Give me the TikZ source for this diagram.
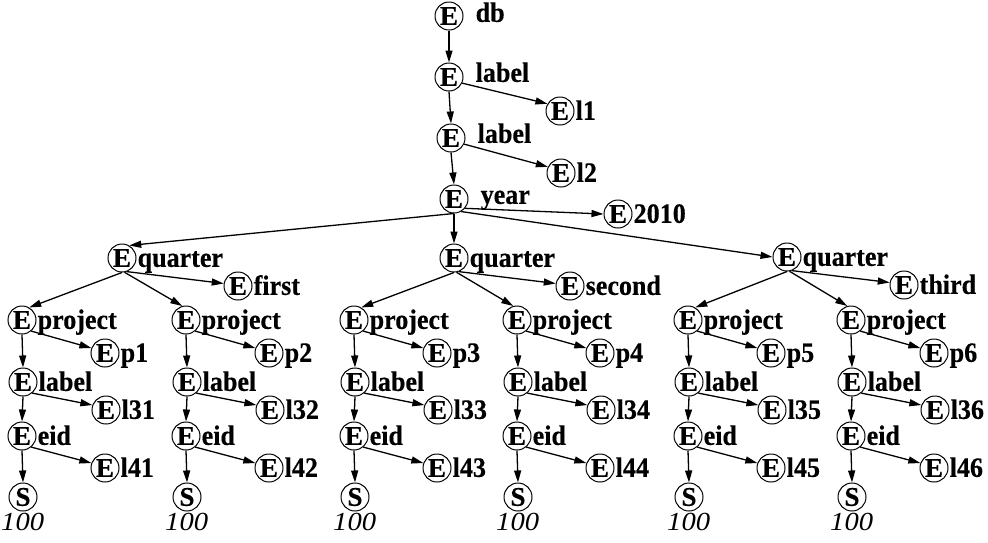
\documentclass[tikz,border=0pt]{standalone}
\usepackage{fontspec}
\setmainfont{Liberation Serif}
\newfontfamily\labfont{Liberation Serif}[FakeStretch=0.93, BoldFeatures={FakeBold=0.4}]
\newfontfamily\circfont{Liberation Serif}[BoldFeatures={FakeBold=0.4}]
\newfontfamily\numfont{Liberation Serif}[FakeStretch=1.1]
\usetikzlibrary{arrows.meta}
\tikzset{
  enode/.style={circle, draw, line width=1pt, inner sep=0pt, minimum size=28pt,
    font=\circfont\fontsize{27}{27}\selectfont\bfseries},
  lab/.style={anchor=base west, inner sep=0pt, font=\labfont\fontsize{28}{28}\selectfont\bfseries},
  hund/.style={anchor=base west, inner sep=0pt, font=\numfont\fontsize{26}{26}\selectfont\itshape},
  arr/.style={-{Triangle[length=12pt,width=7pt]}, line width=1.3pt},
}
\begin{document}
\begin{tikzpicture}[x=1pt,y=-1pt]
\useasboundingbox (0,0) rectangle (988,542);
% top chain
\node[enode] (db) at (449,16) {E};
\node[lab] at ([xshift=12pt,yshift=3pt]db.east |- db.base) {db};
\node[enode] (lb1) at (449,77) {E};
\node[lab] at ([xshift=12pt,yshift=4pt]lb1.east |- lb1.base) {label};
\node[enode] (l1) at (560,111) {E};
\node[lab] at ([xshift=1pt]l1.east |- l1.base) {l1};
\node[enode] (lb2) at (451,138) {E};
\node[lab] at ([xshift=12pt,yshift=4pt]lb2.east |- lb2.base) {label};
\node[enode] (l2) at (561,173) {E};
\node[lab] at ([xshift=1pt]l2.east |- l2.base) {l2};
\node[enode] (yr) at (454,199) {E};
\node[lab] at ([xshift=12pt,yshift=4pt]yr.east |- yr.base) {year};
\node[enode] (y10) at (618,214) {E};
\node[lab] at ([xshift=1pt]y10.east |- y10.base) {2010};
\draw[arr] (db.south) -- (lb1.north);
\draw[arr] (lb1.south) -- (lb2.north);
\draw[arr] (lb2.south) -- (yr.north);
\draw[arr] (lb1.-25) -- (l1.150);
\draw[arr] (lb2.-25) -- (l2.155);
% quarters
\node[enode] (q1) at (122,258) {E};
\node[lab] at ([xshift=1pt]q1.east |- q1.base) {quarter};
\node[enode] (q2) at (454,258) {E};
\node[lab] at ([xshift=1pt]q2.east |- q2.base) {quarter};
\node[enode] (q3) at (787,257) {E};
\node[lab] at ([xshift=1pt]q3.east |- q3.base) {quarter};
\node[enode] (f1) at (238,286) {E};
\node[lab] at ([xshift=1pt]f1.east |- f1.base) {first};
\node[enode] (f2) at (570,286) {E};
\node[lab] at ([xshift=1pt]f2.east |- f2.base) {second};
\node[enode] (f3) at (904,285) {E};
\node[lab] at ([xshift=1pt]f3.east |- f3.base) {third};
\draw[arr] (yr.south) -- (q1.60);
\draw[arr] (yr.south) -- (q2.north);
\draw[arr] (yr.-60) -- (q3.west);
\draw[arr] (yr.-40) -- (y10.west);
\draw[arr] (q1.-70) -- (f1.170);
\draw[arr] (q2.-70) -- (f2.170);
\draw[arr] (q3.-70) -- (f3.170);
% subtrees
\foreach \px/\i in {22/1,186/2,354/3,517/4,688/5,851/6} {
  \node[enode] (pr\i) at (\px,320) {E};
  \node[lab] at ([xshift=1pt]pr\i.east |- pr\i.base) {project};
  \node[enode] (pp\i) at (\px+83,353) {E};
  \node[lab] at ([xshift=1pt]pp\i.east |- pp\i.base) {p\i};
  \node[enode] (la\i) at (\px+1,382) {E};
  \node[lab] at ([xshift=1pt]la\i.east |- la\i.base) {label};
  \node[enode] (lt\i) at (\px+84,410) {E};
  \node[lab] at ([xshift=1pt]lt\i.east |- lt\i.base) {l3\i};
  \node[enode] (ei\i) at (\px,436) {E};
  \node[lab] at ([xshift=1pt]ei\i.east |- ei\i.base) {eid};
  \node[enode] (lf\i) at (\px+83,468) {E};
  \node[lab] at ([xshift=1pt]lf\i.east |- lf\i.base) {l4\i};
  \node[enode] (s\i) at (\px+1,497) {S};
  \node[hund] (h\i) at (\px-21,530) {100};
  \draw[arr] (pr\i.south) -- (la\i.north);
  \draw[arr] (la\i.south) -- (ei\i.north);
  \draw[arr] (ei\i.south) -- (s\i.north);
  \draw[arr] (pr\i.-50) -- (pp\i.160);
  \draw[arr] (la\i.-50) -- (lt\i.160);
  \draw[arr] (ei\i.-50) -- (lf\i.160);
}
\draw[arr] (q1.south) -- (pr1.60);
\draw[arr] (q1.-80) -- (pr2.105);
\draw[arr] (q2.south) -- (pr3.60);
\draw[arr] (q2.-80) -- (pr4.105);
\draw[arr] (q3.south) -- (pr5.60);
\draw[arr] (q3.-80) -- (pr6.105);
\end{tikzpicture}
\end{document}
